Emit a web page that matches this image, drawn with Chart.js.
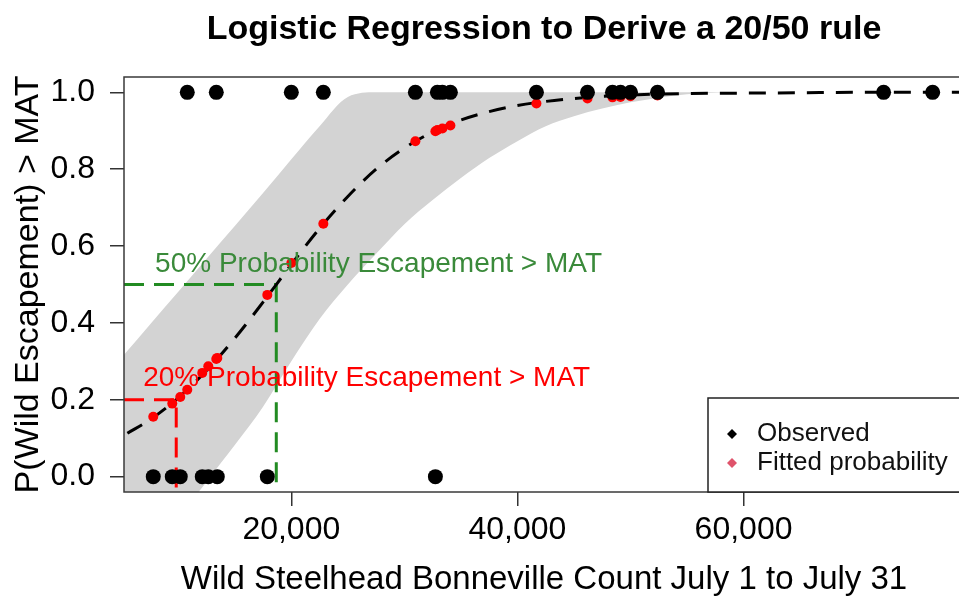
<!DOCTYPE html>
<html>
<head>
<meta charset="utf-8">
<script src="https://cdn.jsdelivr.net/npm/chart.js@4.4.1/dist/chart.umd.min.js"></script>
<style>
  html, body { margin: 0; padding: 0; background: #fff; overflow: hidden; }
  #wrap { width: 975px; height: 601px; }
</style>
</head>
<body>
<div id="wrap"><canvas id="chart" width="975" height="601"></canvas></div>
<script>
const FONT = "'Liberation Sans', Arial, sans-serif";

// observed years: July count and whether wild escapement beat MAT (1) or not (0)
const observedCount = [7788, 9469, 10177, 10796, 12124, 12655, 13363, 13451, 17876, 20000, 22832, 30973,
  32743, 32920, 33363, 34071, 41681, 46195, 48407, 49115, 50000, 52389, 72389, 76726];
const observedOutcome = [0, 0, 0, 1, 0, 0, 1, 0, 0, 1, 1, 1, 0, 1, 1, 1, 1, 1, 1, 1, 1, 1, 1, 1];
const fittedProb = [0.156, 0.19, 0.207, 0.226, 0.27, 0.287, 0.306, 0.309, 0.473, 0.556, 0.658, 0.873,
  0.899, 0.902, 0.906, 0.914, 0.971, 0.984, 0.987, 0.988, 0.99, 0.992, 0.999, 1.0];

// fitted curve
const curveCount = [5500, 7500, 10000, 12500, 15000, 17500, 20000, 22500, 25000, 27500, 30000, 32500,
  35000, 37500, 40000, 45000, 50000, 55000, 60000, 65000, 70000, 79500];
const curveProb = [0.113, 0.148, 0.205, 0.276, 0.36, 0.454, 0.552, 0.646, 0.729, 0.80, 0.855, 0.897,
  0.928, 0.95, 0.966, 0.984, 0.993, 0.997, 0.998, 0.999, 1.0, 1.0];

// grey confidence band
const bandCount = [5200, 7500, 10000, 12500, 15000, 17500, 20000, 22500, 25000, 27500, 30000, 32500,
  35000, 37500, 40000, 42500, 45000, 47500, 50000, 52500, 55000, 57500, 60000, 79500];
const bandUpper = [0.317, 0.396, 0.481, 0.567, 0.652, 0.738, 0.826, 0.912, 0.988, 1, 1, 1,
  1, 1, 1, 1, 1, 1, 1, 1, 1, 1, 1, 1];
const bandLower = [-0.30, -0.206, -0.109, -0.013, 0.082, 0.182, 0.30, 0.41, 0.50, 0.58, 0.657, 0.72,
  0.777, 0.829, 0.873, 0.912, 0.938, 0.958, 0.974, 0.986, 0.995, 0.999, 1, 1];

const xTicks = [20000, 40000, 60000];
const yTicks = [0, 0.2, 0.4, 0.6, 0.8, 1.0];
const count20 = 9820;   // count where fit crosses 0.2
const count50 = 18670;  // count where fit crosses 0.5

const xMin = 5200, xMax = 79500, yMin = -0.04, yMax = 1.04;

const pts = (xs, ys) => xs.map((x, i) => ({ x: x, y: ys[i] }));
const commas = v => String(v).replace(/\B(?=(\d{3})+(?!\d))/g, ',');

const notes = [
  { text: '50% Probability Escapement > MAT', x: 7950, y: 0.553, color: '#3a8a3a' },
  { text: '20% Probability Escapement > MAT', x: 6900, y: 0.257, color: '#ff0000' },
];
const legendItems = [
  { label: 'Observed', color: '#000000' },
  { label: 'Fitted probability', color: '#df536b' },
];

// box around the plot region (R style)
const frame = {
  id: 'frame',
  afterDatasetsDraw(chart) {
    const { ctx, chartArea: a } = chart;
    ctx.save();
    ctx.strokeStyle = '#3a3a3a';
    ctx.lineWidth = 1.5;
    ctx.strokeRect(a.left, a.top, a.right - a.left, a.bottom - a.top);
    ctx.restore();
  }
};

const labels = {
  id: 'labels',
  afterDatasetsDraw(chart) {
    const { ctx, scales } = chart;
    ctx.save();
    ctx.font = '28px ' + FONT;
    ctx.textAlign = 'left';
    ctx.textBaseline = 'middle';
    notes.forEach(n => {
      ctx.fillStyle = n.color;
      ctx.fillText(n.text, scales.x.getPixelForValue(n.x), scales.y.getPixelForValue(n.y));
    });
    ctx.restore();
  }
};

const legendBox = {
  id: 'legendBox',
  afterDraw(chart) {
    const { ctx, chartArea: a } = chart;
    const left = a.right - 256, top = a.bottom - 94;
    ctx.save();
    ctx.fillStyle = '#fff';
    ctx.fillRect(left, top, a.right - left + 10, a.bottom - top);
    ctx.strokeStyle = '#222';
    ctx.lineWidth = 1.5;
    ctx.strokeRect(left, top, a.right - left + 10, a.bottom - top);
    ctx.font = '26px ' + FONT;
    ctx.textBaseline = 'middle';
    ctx.textAlign = 'left';
    legendItems.forEach((it, i) => {
      const cy = top + 36 + i * 29, cx = left + 24, r = 5;
      ctx.fillStyle = it.color;
      ctx.beginPath();
      ctx.moveTo(cx, cy - r); ctx.lineTo(cx + r, cy); ctx.lineTo(cx, cy + r); ctx.lineTo(cx - r, cy);
      ctx.closePath();
      ctx.fill();
      ctx.fillStyle = '#111';
      ctx.fillText(it.label, left + 49, cy);
    });
    ctx.restore();
  }
};

new Chart(document.getElementById('chart'), {
  type: 'line',
  data: {
    datasets: [
      {
        label: 'Observed',
        data: pts(observedCount, observedOutcome),
        showLine: false,
        backgroundColor: '#000',
        borderColor: '#000',
        borderWidth: 0,
        pointRadius: 7.5,
      },
      {
        label: 'Fitted probability',
        data: pts(observedCount, fittedProb),
        showLine: false,
        backgroundColor: '#ff0000',
        borderColor: '#ff0000',
        borderWidth: 0,
        pointRadius: 5,
      },
      {
        label: 'Fit',
        data: pts(curveCount, curveProb),
        borderColor: '#000',
        borderWidth: 3,
        borderDash: [17, 12],
        pointRadius: 0,
        fill: false,
        cubicInterpolationMode: 'monotone',
      },
      {
        label: '50%',
        data: [{ x: xMin, y: 0.5 }, { x: count50, y: 0.5 }, { x: count50, y: yMin }],
        borderColor: '#228b22',
        borderWidth: 3,
        borderDash: [20, 10],
        pointRadius: 0,
        fill: false,
      },
      {
        label: '20%',
        data: [{ x: xMin, y: 0.2 }, { x: count20, y: 0.2 }, { x: count20, y: yMin }],
        borderColor: '#ff0000',
        borderWidth: 3,
        borderDash: [20, 10],
        pointRadius: 0,
        fill: false,
      },
      {
        label: 'Upper',
        data: pts(bandCount, bandUpper),
        borderColor: 'rgba(0,0,0,0)',
        backgroundColor: '#d3d3d3',
        pointRadius: 0,
        fill: '+1',
        cubicInterpolationMode: 'monotone',
      },
      {
        label: 'Lower',
        data: pts(bandCount, bandLower),
        borderColor: 'rgba(0,0,0,0)',
        pointRadius: 0,
        fill: false,
        cubicInterpolationMode: 'monotone',
      },
    ],
  },
  options: {
    responsive: false,
    animation: false,
    events: [],
    layout: { padding: { left: 0, right: 11, top: 0, bottom: 0 } },
    plugins: {
      legend: { display: false },
      tooltip: { enabled: false },
      title: {
        display: true,
        fullSize: false,
        text: 'Logistic Regression to Derive a 20/50 rule',
        color: '#000',
        font: { family: FONT, size: 34, weight: 'bold' },
        padding: { top: 9, bottom: 27.2 },
      },
    },
    scales: {
      x: {
        type: 'linear',
        min: xMin,
        max: xMax,
        afterBuildTicks: s => { s.ticks = xTicks.map(v => ({ value: v })); },
        afterFit: s => { s.height = 109; },
        border: { display: false },
        grid: { drawOnChartArea: false, drawTicks: true, tickLength: 14, color: '#333', lineWidth: 1.5 },
        ticks: {
          autoSkip: false, maxRotation: 0, padding: 5, color: '#000',
          font: { family: FONT, size: 32 },
          callback: v => commas(v),
        },
        title: {
          display: true,
          text: 'Wild Steelhead Bonneville Count July 1 to July 31',
          color: '#000',
          font: { family: FONT, size: 33 },
          padding: { top: 0, bottom: 1 },
        },
      },
      y: {
        type: 'linear',
        min: yMin,
        max: yMax,
        afterBuildTicks: s => { s.ticks = yTicks.map(v => ({ value: v })); },
        afterFit: s => { s.width = 124; },
        border: { display: false },
        grid: { drawOnChartArea: false, drawTicks: true, tickLength: 14, color: '#333', lineWidth: 1.5 },
        ticks: {
          padding: 15, color: '#000',
          font: { family: FONT, size: 32 },
          callback: v => v.toFixed(1),
        },
        title: {
          display: true,
          text: 'P(Wild Escapement) > MAT',
          color: '#000',
          font: { family: FONT, size: 34 },
          padding: { top: 8, bottom: 0 },
        },
      },
    },
  },
  plugins: [frame, labels, legendBox],
});
</script>
</body>
</html>
